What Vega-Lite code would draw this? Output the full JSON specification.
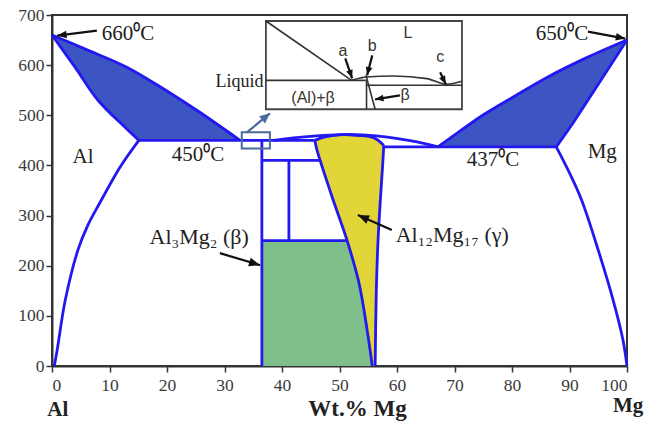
{
  "$schema": "https://vega.github.io/schema/vega-lite/v6.json",
  "width": 575,
  "height": 351,
  "autosize": {"type": "none"},
  "padding": {"left": 52, "top": 15, "right": 38, "bottom": 55},
  "background": "white",
  "config": {
    "view": {"stroke": "#333", "strokeWidth": 2},
    "axis": {"grid": false, "domainColor": "#333", "domainWidth": 2, "tickColor": "#333", "tickWidth": 1.5, "tickSize": 6, "labelFont": "Liberation Serif", "labelFontSize": 17.5, "labelColor": "#3a3a3a", "titleFont": "Liberation Serif", "titleFontSize": 23, "titleFontWeight": "bold", "titleColor": "#222"}
  },
  "datasets": {
    "poly": [
      {"id": "AlL", "o": 1, "x": 0, "y": 660}, {"id": "AlL", "o": 2, "x": 6, "y": 631}, {"id": "AlL", "o": 3, "x": 13, "y": 596}, {"id": "AlL", "o": 4, "x": 19.5, "y": 552}, {"id": "AlL", "o": 5, "x": 25.7, "y": 506}, {"id": "AlL", "o": 6, "x": 32.7, "y": 450}, {"id": "AlL", "o": 7, "x": 15.1, "y": 450}, {"id": "AlL", "o": 8, "x": 12.7, "y": 476}, {"id": "AlL", "o": 9, "x": 8, "y": 530}, {"id": "AlL", "o": 10, "x": 4, "y": 596}, {"id": "AlL", "o": 11, "x": 0, "y": 660},
      {"id": "MgL", "o": 1, "x": 100, "y": 650}, {"id": "MgL", "o": 2, "x": 93, "y": 615}, {"id": "MgL", "o": 3, "x": 86, "y": 575}, {"id": "MgL", "o": 4, "x": 80, "y": 535}, {"id": "MgL", "o": 5, "x": 74.9, "y": 500}, {"id": "MgL", "o": 6, "x": 69.2, "y": 454}, {"id": "MgL", "o": 7, "x": 67.1, "y": 437}, {"id": "MgL", "o": 8, "x": 87.7, "y": 437}, {"id": "MgL", "o": 9, "x": 90.6, "y": 484}, {"id": "MgL", "o": 10, "x": 100, "y": 650},
      {"id": "green", "o": 1, "x": 36.5, "y": 0}, {"id": "green", "o": 2, "x": 36.5, "y": 250}, {"id": "green", "o": 3, "x": 51.3, "y": 250}, {"id": "green", "o": 4, "x": 53.4, "y": 165}, {"id": "green", "o": 5, "x": 54.8, "y": 72}, {"id": "green", "o": 6, "x": 55.7, "y": 0},
      {"id": "gamma", "o": 1, "x": 45.7, "y": 450}, {"id": "gamma", "o": 2, "x": 47.5, "y": 457}, {"id": "gamma", "o": 3, "x": 50, "y": 461}, {"id": "gamma", "o": 4, "x": 53, "y": 460}, {"id": "gamma", "o": 5, "x": 56, "y": 455}, {"id": "gamma", "o": 6, "x": 57.7, "y": 440}, {"id": "gamma", "o": 7, "x": 57.5, "y": 400}, {"id": "gamma", "o": 8, "x": 57.1, "y": 330}, {"id": "gamma", "o": 9, "x": 56.7, "y": 250}, {"id": "gamma", "o": 10, "x": 56.4, "y": 150}, {"id": "gamma", "o": 11, "x": 56.2, "y": 0}, {"id": "gamma", "o": 12, "x": 55.7, "y": 0}, {"id": "gamma", "o": 13, "x": 54.8, "y": 72}, {"id": "gamma", "o": 14, "x": 53.4, "y": 165}, {"id": "gamma", "o": 15, "x": 51.3, "y": 251}, {"id": "gamma", "o": 16, "x": 48.9, "y": 331}, {"id": "gamma", "o": 17, "x": 46.1, "y": 430}
    ],
    "curves": [
      {"id": "AlLiq", "o": 1, "x": 0, "y": 660}, {"id": "AlLiq", "o": 2, "x": 6, "y": 631}, {"id": "AlLiq", "o": 3, "x": 13, "y": 596}, {"id": "AlLiq", "o": 4, "x": 19.5, "y": 552}, {"id": "AlLiq", "o": 5, "x": 25.7, "y": 506}, {"id": "AlLiq", "o": 6, "x": 32.7, "y": 450},
      {"id": "AlSol", "o": 1, "x": 0, "y": 660}, {"id": "AlSol", "o": 2, "x": 4, "y": 596}, {"id": "AlSol", "o": 3, "x": 8, "y": 530}, {"id": "AlSol", "o": 4, "x": 12.7, "y": 476}, {"id": "AlSol", "o": 5, "x": 15.1, "y": 450},
      {"id": "AlSolvus", "o": 1, "x": 15.1, "y": 450}, {"id": "AlSolvus", "o": 2, "x": 11.8, "y": 396}, {"id": "AlSolvus", "o": 3, "x": 8.3, "y": 325}, {"id": "AlSolvus", "o": 4, "x": 6.2, "y": 280}, {"id": "AlSolvus", "o": 5, "x": 4.5, "y": 231}, {"id": "AlSolvus", "o": 6, "x": 2.3, "y": 131}, {"id": "AlSolvus", "o": 7, "x": 0.9, "y": 32}, {"id": "AlSolvus", "o": 8, "x": 0.4, "y": 0},
      {"id": "MgLiq", "o": 1, "x": 100, "y": 650}, {"id": "MgLiq", "o": 2, "x": 93, "y": 615}, {"id": "MgLiq", "o": 3, "x": 86, "y": 575}, {"id": "MgLiq", "o": 4, "x": 80, "y": 535}, {"id": "MgLiq", "o": 5, "x": 74.9, "y": 500}, {"id": "MgLiq", "o": 6, "x": 69.2, "y": 454}, {"id": "MgLiq", "o": 7, "x": 67.1, "y": 437},
      {"id": "MgSolvus", "o": 1, "x": 87.7, "y": 437}, {"id": "MgSolvus", "o": 2, "x": 90, "y": 385}, {"id": "MgSolvus", "o": 3, "x": 92.1, "y": 331}, {"id": "MgSolvus", "o": 4, "x": 95, "y": 231}, {"id": "MgSolvus", "o": 5, "x": 97.6, "y": 131}, {"id": "MgSolvus", "o": 6, "x": 99.3, "y": 52}, {"id": "MgSolvus", "o": 7, "x": 100, "y": 0},
      {"id": "gammaL", "o": 1, "x": 45.7, "y": 450}, {"id": "gammaL", "o": 2, "x": 46.1, "y": 430}, {"id": "gammaL", "o": 3, "x": 48.9, "y": 331}, {"id": "gammaL", "o": 4, "x": 51.3, "y": 251}, {"id": "gammaL", "o": 5, "x": 53.4, "y": 165}, {"id": "gammaL", "o": 6, "x": 54.8, "y": 72}, {"id": "gammaL", "o": 7, "x": 55.7, "y": 0},
      {"id": "gammaR", "o": 1, "x": 57.7, "y": 440}, {"id": "gammaR", "o": 2, "x": 57.5, "y": 400}, {"id": "gammaR", "o": 3, "x": 57.1, "y": 330}, {"id": "gammaR", "o": 4, "x": 56.7, "y": 250}, {"id": "gammaR", "o": 5, "x": 56.4, "y": 150}, {"id": "gammaR", "o": 6, "x": 56.2, "y": 0},
      {"id": "gammaT", "o": 1, "x": 45.7, "y": 450}, {"id": "gammaT", "o": 2, "x": 47.5, "y": 457}, {"id": "gammaT", "o": 3, "x": 50, "y": 461}, {"id": "gammaT", "o": 4, "x": 53, "y": 460}, {"id": "gammaT", "o": 5, "x": 56, "y": 455}, {"id": "gammaT", "o": 6, "x": 57.7, "y": 440},
      {"id": "Dome", "o": 1, "x": 38.5, "y": 450}, {"id": "Dome", "o": 2, "x": 42, "y": 455}, {"id": "Dome", "o": 3, "x": 46, "y": 459}, {"id": "Dome", "o": 4, "x": 50, "y": 461.5}, {"id": "Dome", "o": 5, "x": 54, "y": 461}, {"id": "Dome", "o": 6, "x": 58, "y": 457}, {"id": "Dome", "o": 7, "x": 62, "y": 450}, {"id": "Dome", "o": 8, "x": 65, "y": 443}, {"id": "Dome", "o": 9, "x": 67.1, "y": 437}
    ],
    "straight": [
      {"id": "MgSol", "o": 1, "x": 100, "y": 650}, {"id": "MgSol", "o": 2, "x": 90.6, "y": 484}, {"id": "MgSol", "o": 3, "x": 87.7, "y": 437},
      {"id": "L450", "o": 1, "x": 15.1, "y": 450}, {"id": "L450", "o": 2, "x": 45.7, "y": 450},
      {"id": "L437", "o": 1, "x": 57.7, "y": 437}, {"id": "L437", "o": 2, "x": 87.7, "y": 437},
      {"id": "Beta", "o": 1, "x": 36.5, "y": 0}, {"id": "Beta", "o": 2, "x": 36.5, "y": 450},
      {"id": "L410", "o": 1, "x": 36.5, "y": 410}, {"id": "L410", "o": 2, "x": 46.6, "y": 410},
      {"id": "V41", "o": 1, "x": 41.2, "y": 410}, {"id": "V41", "o": 2, "x": 41.2, "y": 250},
      {"id": "L250", "o": 1, "x": 36.5, "y": 250}, {"id": "L250", "o": 2, "x": 51.3, "y": 250}
    ],
    "boxes": [
      {"id": "inset", "x": 37.2, "x2": 71.3, "y": 512, "y2": 688},
      {"id": "marker", "x": 33.0, "x2": 37.9, "y": 434, "y2": 466}
    ],
    "inset": [
      {"id": "d1", "o": 1, "x": 37.2, "y": 688}, {"id": "d1", "o": 2, "x": 52.1, "y": 569.7},
      {"id": "h1", "o": 1, "x": 37.2, "y": 569.7}, {"id": "h1", "o": 2, "x": 54.6, "y": 569.7},
      {"id": "h2", "o": 1, "x": 54.6, "y": 559.8}, {"id": "h2", "o": 2, "x": 71.3, "y": 559.8},
      {"id": "v1", "o": 1, "x": 54.7, "y": 569.7}, {"id": "v1", "o": 2, "x": 54.7, "y": 512},
      {"id": "s1", "o": 1, "x": 54.6, "y": 579.7}, {"id": "s1", "o": 2, "x": 56.2, "y": 512},
      {"id": "cv", "o": 1, "x": 52.1, "y": 569.7}, {"id": "cv", "o": 2, "x": 53.6, "y": 574.3}, {"id": "cv", "o": 3, "x": 54.6, "y": 576.3}, {"id": "cv", "o": 4, "x": 59.4, "y": 578.3}, {"id": "cv", "o": 5, "x": 65.2, "y": 573.1}, {"id": "cv", "o": 6, "x": 68.6, "y": 561.8}, {"id": "cv", "o": 7, "x": 71.3, "y": 567.7}
    ],
    "arrows": [
      {"id": "t660", "x": 7.8, "y": 669, "x2": 0.9, "y2": 659},
      {"id": "t650", "x": 93.2, "y": 667, "x2": 99.7, "y2": 653},
      {"id": "beta", "x": 29.2, "y": 225, "x2": 36.2, "y2": 201},
      {"id": "gamma", "x": 59.1, "y": 271, "x2": 53.2, "y2": 301},
      {"id": "a", "x": 51.0, "y": 613.5, "x2": 52.2, "y2": 573.7},
      {"id": "b", "x": 55.7, "y": 619.5, "x2": 54.8, "y2": 579.7},
      {"id": "c", "x": 67.5, "y": 585.7, "x2": 68.5, "y2": 561.8},
      {"id": "ib", "x": 60.5, "y": 539.8, "x2": 56.2, "y2": 531.9}
    ],
    "boxarrow": [
      {"id": "box", "x": 33.9, "y": 466, "x2": 37.9, "y2": 504}
    ],
    "temps": [
      {"t": "660⁰C", "x": 13.2, "y": 663},
      {"t": "650⁰C", "x": 88.7, "y": 663},
      {"t": "Al", "x": 5.4, "y": 416},
      {"t": "Mg", "x": 95.7, "y": 426},
      {"t": "450⁰C", "x": 25.4, "y": 420},
      {"t": "437⁰C", "x": 76.7, "y": 410}
    ],
    "phases": [
      {"t": "Al₃Mg₂ (β)", "x": 25.6, "y": 257},
      {"t": "Al₁₂Mg₁₇ (γ)", "x": 69.6, "y": 261}
    ],
    "liquid": [
      {"t": "Liquid", "x": 36.8, "y": 566}
    ],
    "sans": [
      {"t": "L", "x": 61.9, "y": 665},
      {"t": "a", "x": 50.6, "y": 629},
      {"t": "b", "x": 55.7, "y": 639},
      {"t": "c", "x": 67.5, "y": 615.5},
      {"t": "(Al)+β", "x": 45.4, "y": 534},
      {"t": "β", "x": 61.4, "y": 540}
    ],
    "bold": [
      {"t": "Al", "x": 1.0, "y": -88},
      {"t": "Mg", "x": 100.2, "y": -80}
    ]
  },
  "encoding": {
    "x": {"field": "x", "type": "quantitative", "scale": {"domain": [0, 100], "nice": false, "zero": false}, "axis": {"values": [0, 10, 20, 30, 40, 50, 60, 70, 80, 90, 100], "title": "Wt.% Mg", "labelPadding": 4, "titleX": 305, "titleY": 49, "titleBaseline": "alphabetic", "titleAnchor": "start", "titleAlign": "center"}},
    "y": {"field": "y", "type": "quantitative", "scale": {"domain": [0, 700], "nice": false, "zero": false}, "axis": {"values": [0, 100, 200, 300, 400, 500, 600, 700], "title": null, "labelPadding": 2}}
  },
  "layer": [
    {"data": {"name": "poly"}, "transform": [{"filter": "datum.id == 'AlL'"}], "mark": {"type": "line", "fill": "#3c55c3", "strokeOpacity": 0}, "encoding": {"order": {"field": "o", "type": "quantitative"}}},
    {"data": {"name": "poly"}, "transform": [{"filter": "datum.id == 'MgL'"}], "mark": {"type": "line", "fill": "#3c55c3", "strokeOpacity": 0}, "encoding": {"order": {"field": "o", "type": "quantitative"}}},
    {"data": {"name": "poly"}, "transform": [{"filter": "datum.id == 'green'"}], "mark": {"type": "line", "fill": "#7fc08a", "strokeOpacity": 0}, "encoding": {"order": {"field": "o", "type": "quantitative"}}},
    {"data": {"name": "poly"}, "transform": [{"filter": "datum.id == 'gamma'"}], "mark": {"type": "line", "fill": "#e2d537", "strokeOpacity": 0}, "encoding": {"order": {"field": "o", "type": "quantitative"}}},
    {"data": {"name": "curves"}, "mark": {"type": "line", "stroke": "#2418f0", "strokeWidth": 2.8, "interpolate": "catmull-rom"}, "encoding": {"detail": {"field": "id"}, "order": {"field": "o", "type": "quantitative"}}},
    {"data": {"name": "straight"}, "mark": {"type": "line", "stroke": "#2418f0", "strokeWidth": 2.8, "strokeJoin": "round"}, "encoding": {"detail": {"field": "id"}, "order": {"field": "o", "type": "quantitative"}}},
    {"data": {"name": "boxes"}, "transform": [{"filter": "datum.id == 'inset'"}], "mark": {"type": "rect", "fill": "white", "stroke": "#444", "strokeWidth": 1.8}, "encoding": {"x2": {"field": "x2"}, "y2": {"field": "y2"}}},
    {"data": {"name": "boxes"}, "transform": [{"filter": "datum.id == 'marker'"}], "mark": {"type": "rect", "fill": null, "filled": false, "stroke": "#4a6a9a", "strokeWidth": 2}, "encoding": {"x2": {"field": "x2"}, "y2": {"field": "y2"}}},
    {"data": {"name": "inset"}, "mark": {"type": "line", "stroke": "#333", "strokeWidth": 1.6, "interpolate": "monotone"}, "encoding": {"detail": {"field": "id"}, "order": {"field": "o", "type": "quantitative"}}},
    {"data": {"name": "arrows"}, "mark": {"type": "rule", "stroke": "#111", "strokeWidth": 2.2}, "encoding": {"x2": {"field": "x2"}, "y2": {"field": "y2"}}},
    {"data": {"name": "boxarrow"}, "mark": {"type": "rule", "stroke": "#4a6a9a", "strokeWidth": 2.2}, "encoding": {"x2": {"field": "x2"}, "y2": {"field": "y2"}}},
    {"data": {"name": "arrows"}, "transform": [{"filter": "datum.id == 't660'"}], "mark": {"type": "point", "shape": "M0,0L-0.4,1L0.4,1Z", "filled": true, "fill": "#111", "strokeWidth": 0, "size": 360, "opacity": 1, "angle": 263}, "encoding": {"x": {"field": "x2", "type": "quantitative"}, "y": {"field": "y2", "type": "quantitative"}}},
    {"data": {"name": "arrows"}, "transform": [{"filter": "datum.id == 't650'"}], "mark": {"type": "point", "shape": "M0,0L-0.4,1L0.4,1Z", "filled": true, "fill": "#111", "strokeWidth": 0, "size": 360, "opacity": 1, "angle": 101}, "encoding": {"x": {"field": "x2", "type": "quantitative"}, "y": {"field": "y2", "type": "quantitative"}}},
    {"data": {"name": "arrows"}, "transform": [{"filter": "datum.id == 'beta'"}], "mark": {"type": "point", "shape": "M0,0L-0.4,1L0.4,1Z", "filled": true, "fill": "#111", "strokeWidth": 0, "size": 500, "opacity": 1, "angle": 107}, "encoding": {"x": {"field": "x2", "type": "quantitative"}, "y": {"field": "y2", "type": "quantitative"}}},
    {"data": {"name": "arrows"}, "transform": [{"filter": "datum.id == 'gamma'"}], "mark": {"type": "point", "shape": "M0,0L-0.4,1L0.4,1Z", "filled": true, "fill": "#111", "strokeWidth": 0, "size": 500, "opacity": 1, "angle": 294}, "encoding": {"x": {"field": "x2", "type": "quantitative"}, "y": {"field": "y2", "type": "quantitative"}}},
    {"data": {"name": "arrows"}, "transform": [{"filter": "datum.id == 'a'"}], "mark": {"type": "point", "shape": "M0,0L-0.4,1L0.4,1Z", "filled": true, "fill": "#111", "strokeWidth": 0, "size": 280, "opacity": 1, "angle": 161}, "encoding": {"x": {"field": "x2", "type": "quantitative"}, "y": {"field": "y2", "type": "quantitative"}}},
    {"data": {"name": "arrows"}, "transform": [{"filter": "datum.id == 'b'"}], "mark": {"type": "point", "shape": "M0,0L-0.4,1L0.4,1Z", "filled": true, "fill": "#111", "strokeWidth": 0, "size": 280, "opacity": 1, "angle": 194}, "encoding": {"x": {"field": "x2", "type": "quantitative"}, "y": {"field": "y2", "type": "quantitative"}}},
    {"data": {"name": "arrows"}, "transform": [{"filter": "datum.id == 'c'"}], "mark": {"type": "point", "shape": "M0,0L-0.4,1L0.4,1Z", "filled": true, "fill": "#111", "strokeWidth": 0, "size": 280, "opacity": 1, "angle": 153}, "encoding": {"x": {"field": "x2", "type": "quantitative"}, "y": {"field": "y2", "type": "quantitative"}}},
    {"data": {"name": "arrows"}, "transform": [{"filter": "datum.id == 'ib'"}], "mark": {"type": "point", "shape": "M0,0L-0.4,1L0.4,1Z", "filled": true, "fill": "#111", "strokeWidth": 0, "size": 280, "opacity": 1, "angle": 261}, "encoding": {"x": {"field": "x2", "type": "quantitative"}, "y": {"field": "y2", "type": "quantitative"}}},
    {"data": {"name": "boxarrow"}, "mark": {"type": "point", "shape": "M0,0L-0.45,1L0.45,1Z", "filled": true, "fill": "#4a6a9a", "strokeWidth": 0, "size": 420, "opacity": 1, "angle": 50}, "encoding": {"x": {"field": "x2", "type": "quantitative"}, "y": {"field": "y2", "type": "quantitative"}}},
    {"data": {"name": "temps"}, "mark": {"type": "text", "font": "Liberation Serif", "fontSize": 21, "color": "#222", "align": "center", "baseline": "middle"}, "encoding": {"text": {"field": "t"}}},
    {"data": {"name": "phases"}, "mark": {"type": "text", "font": "Liberation Serif", "fontSize": 22, "color": "#222", "align": "center", "baseline": "middle"}, "encoding": {"text": {"field": "t"}}},
    {"data": {"name": "liquid"}, "mark": {"type": "text", "font": "Liberation Serif", "fontSize": 18, "color": "#222", "align": "right", "baseline": "middle"}, "encoding": {"text": {"field": "t"}}},
    {"data": {"name": "sans"}, "mark": {"type": "text", "font": "Liberation Sans", "fontSize": 16, "color": "#3a342e", "align": "center", "baseline": "middle"}, "encoding": {"text": {"field": "t"}}},
    {"data": {"name": "bold"}, "mark": {"type": "text", "font": "Liberation Serif", "fontSize": 21, "fontWeight": "bold", "color": "#222", "align": "center", "baseline": "middle"}, "encoding": {"text": {"field": "t"}}}
  ]
}
